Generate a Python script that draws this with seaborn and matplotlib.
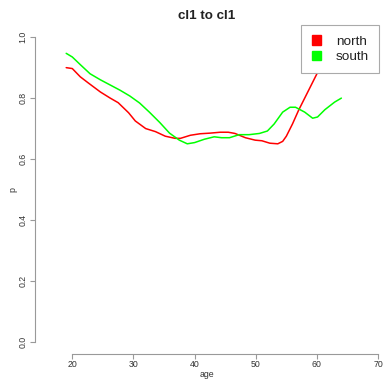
import matplotlib
matplotlib.use("Agg")
import matplotlib.pyplot as plt
from matplotlib.patches import Patch
import seaborn as sns
import pandas as pd

north_age = [19, 20, 21.3, 22.6, 24.6, 26.2, 27.5, 29.2, 30.3, 32, 33.6, 35.2, 36.8, 37.7,
             39.3, 40.9, 42.5, 44.2, 45.5, 46.6, 48.3, 49.9, 51, 52.3, 53.6, 54.4, 55,
             56, 57, 58, 59, 60, 61, 62, 63]
north_p = [0.90, 0.897, 0.87, 0.85, 0.82, 0.80, 0.785, 0.752, 0.725, 0.70, 0.69, 0.675, 0.668, 0.668,
           0.678, 0.683, 0.685, 0.688, 0.688, 0.684, 0.670, 0.662, 0.660, 0.652, 0.650, 0.658, 0.675,
           0.715, 0.76, 0.80, 0.84, 0.88, 0.92, 0.96, 1.0]

south_age = [19, 20, 21.3, 22.9, 24.6, 26.2, 27.8, 29.4, 31, 32.6, 34.3, 35.9, 37.5, 38.8,
             40, 41.6, 43.2, 44.4, 45.7, 47.3, 48.9, 50.6, 51.9, 53, 54.4, 55.6, 56.5,
             58, 59.3, 60.1, 61.3, 62.9, 64]
south_p = [0.947, 0.935, 0.91, 0.88, 0.86, 0.843, 0.826, 0.807, 0.784, 0.754, 0.72, 0.685, 0.662, 0.650,
           0.654, 0.665, 0.673, 0.670, 0.670, 0.680, 0.680, 0.684, 0.692, 0.715, 0.754, 0.770, 0.770,
           0.754, 0.734, 0.738, 0.762, 0.787, 0.80]

groups = ["north", "south"]
colors = ["#FF0000", "#00FF00"]
x_ticks = [20, 30, 40, 50, 60, 70]
y_ticks = [0.0, 0.2, 0.4, 0.6, 0.8, 1.0]
y_tick_labels = ["0.0", "0.2", "0.4", "0.6", "0.8", "1.0"]

df = pd.concat([
    pd.DataFrame({"age": north_age, "p": north_p, "group": "north"}),
    pd.DataFrame({"age": south_age, "p": south_p, "group": "south"}),
])

sns.set_style("white")
plt.rcParams["font.family"] = ["Liberation Sans", "DejaVu Sans"]

fig = plt.figure(figsize=(3.83, 3.81), dpi=100)
ax = fig.add_axes([35/383, 1-354/381, (379-35)/383, (354-25)/381])

sns.lineplot(data=df, x="age", y="p", hue="group", palette=dict(zip(groups, colors)),
             linewidth=1.1, ax=ax, legend=False, sort=False, estimator=None)

ax.set_xlim(13.9, 70.15)
ax.set_ylim(-0.04, 1.04)
ax.set_xticks(x_ticks)
ax.set_yticks(y_ticks)
ax.set_yticklabels(y_tick_labels, rotation=90, va="center")

gray = "#999999"
for s in ["top", "right"]:
    ax.spines[s].set_visible(False)
for s in ["left", "bottom"]:
    ax.spines[s].set_color(gray)
    ax.spines[s].set_linewidth(0.8)
ax.spines["left"].set_bounds(0, 1)
ax.spines["bottom"].set_bounds(20, 70)
ax.tick_params(axis="both", direction="out", length=3.5, width=0.8, color=gray,
               labelsize=6.3, labelcolor="#333333", pad=1.5)
ax.tick_params(axis="x", bottom=True, pad=0.8)
ax.tick_params(axis="y", left=True, pad=2)

ax.set_xlabel("age", fontsize=6.3, color="#333333", labelpad=0.5)
ax.set_ylabel("p", fontsize=6.3, color="#333333", labelpad=1)
ax.set_title("cl1 to cl1", fontsize=9.6, fontweight="bold", color="#222222", pad=4.5)

handles = [Patch(facecolor=c, edgecolor=c, label=g) for g, c in zip(groups, colors)]
leg = ax.legend(handles=handles, loc="upper right", bbox_to_anchor=(1.0, 1.0),
                borderaxespad=0, fontsize=9.7, frameon=True, fancybox=False,
                handlelength=0.7, handleheight=0.7, handletextpad=1.1,
                borderpad=0.75, labelspacing=0.25)
leg.get_frame().set_edgecolor("#aaaaaa")
leg.get_frame().set_linewidth(0.8)
leg.get_frame().set_alpha(1)
for t in leg.get_texts():
    t.set_color("#222222")

fig.savefig("out.png", dpi=100)
